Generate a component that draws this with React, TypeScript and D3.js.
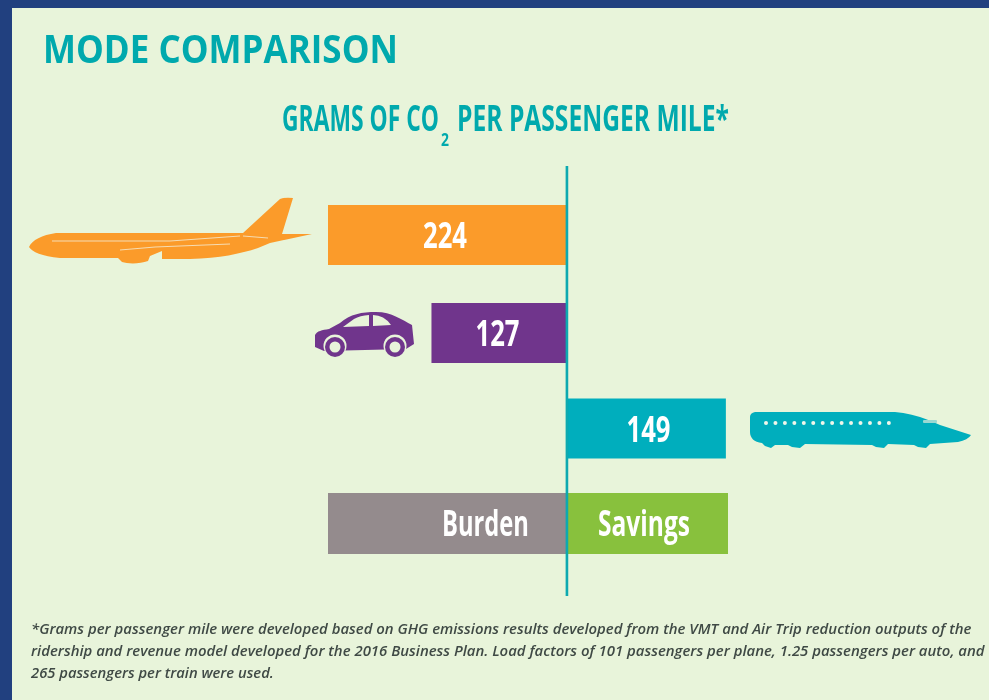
import React, { useLayoutEffect, useRef } from "react";
import * as d3 from "d3";

const categories = ["Plane", "Auto", "Train"];
const directions = [-1, -1, 1];
const values = [224, 127, 149];
const barColors = ["#fb9b2a", "#70368c", "#00aebd"];
const legendLabels = ["Burden", "Savings"];
const legendValues = [-224, 151];
const legendColors = ["#948b8d", "#88c13c"];
const footnoteLines = [
  "*Grams per passenger mile were developed based on GHG emissions results developed from the VMT and Air Trip reduction outputs of the",
  "ridership and revenue model developed for the 2016 Business Plan. Load factors of 101 passengers per plane, 1.25 passengers per auto, and",
  "265 passengers per train were used.",
];
const footnoteWidths = [941, 954, 243];

const W = 989, H = 700;
const TEAL = "#06a9ad";
const COND = "'Open Sans',sans-serif";
const PALE = "#e8f4da";

// Squeezes a text to a width by a real horizontal scale, so its box matches what is drawn.
function FitText({ x, y, width, children, ...rest }: any) {
  const ref = useRef<SVGTextElement>(null);
  useLayoutEffect(() => {
    const el = ref.current;
    if (!el) return;
    const natural = el.getComputedTextLength();
    el.setAttribute("transform", `translate(${x},${y}) scale(${width / natural},1)`);
  }, [x, y, width]);
  return <text ref={ref} {...rest}>{children}</text>;
}

export default function App() {
  const x = d3.scaleLinear().domain([-224, 151]).range([328, 728]);
  const rows = [...categories, "Legend"];
  const y = d3.scaleOrdinal<string, number>().domain(rows).range([235, 333, 428.5, 523.5]);
  const barH = 60;
  const dots = d3.range(14).map((i) => 766 + i * 9.45);
  return (
    <svg width={W} height={H} style={{ position: "absolute", left: 0, top: 0, display: "block" }}>
      <defs>
        <filter id="soft" x="-5%" y="-5%" width="110%" height="110%">
          <feGaussianBlur stdDeviation="0.6" />
        </filter>
      </defs>
      <rect width={W} height={H} fill="#21407f" />
      <rect x={12} y={8} width={W - 12} height={H - 8} fill={PALE} />
      <g filter="url(#soft)">
        <FitText x={43} y={63} width={355} fontFamily={COND} fontWeight={700} fontSize={39} fill={TEAL}>MODE COMPARISON</FitText>
        <g fontFamily={COND} fontWeight={700} fill={TEAL}>
          <FitText x={282} y={131} width={157} fontSize={36}>GRAMS OF CO</FitText>
          <FitText x={441} y={146} width={8} fontSize={17}>2</FitText>
          <FitText x={457} y={131} width={272} fontSize={36}>PER PASSENGER MILE*</FitText>
        </g>

        {categories.map((c, i) => {
          const v = directions[i] * values[i];
          const x0 = Math.min(x(0), x(v));
          const x1 = Math.max(x(0), x(v));
          const cx = i === 0 ? 445 : i === 1 ? 497.5 : 648.5;
          return (
            <g key={c}>
              <rect x={x0} y={y(c) - barH / 2} width={x1 - x0} height={barH} fill={barColors[i]} />
              <FitText x={cx - 22} y={y(c) + 13} width={44} fontFamily={COND} fontWeight={700}
                fontSize={35} fill="#fff">{values[i]}</FitText>
            </g>
          );
        })}

        {legendLabels.map((l, i) => {
          const x0 = Math.min(x(0), x(legendValues[i]));
          const x1 = Math.max(x(0), x(legendValues[i]));
          const tx = i === 0 ? 442 : 598;
          const tw = i === 0 ? 87 : 92;
          return (
            <g key={l}>
              <rect x={x0} y={y("Legend") - barH / 2 - 0.5} width={x1 - x0} height={61} fill={legendColors[i]} />
              <FitText x={tx} y={y("Legend") + 12.5} width={tw} fontFamily={COND} fontWeight={700}
                fontSize={35} fill="#fff">{l}</FitText>
            </g>
          );
        })}

        <line x1={x(0)} x2={x(0)} y1={166} y2={596} stroke="#0aa9b0" strokeWidth={2.6} />

        {/* plane */}
        <path fill={barColors[0]} d="M29 247 C32 240 42 235 56 233 L243 233 L280 199 Q285 197 293 198 L282 234 L312 234 L270 243 L258 248 C240 254 220 258 190 259 L162 259 L162 251 L150 256 L148 261 C140 264 128 264 122 262 L118 258 L60 258 C42 256 32 252 29 247 Z" />
        <path fill="none" stroke="#f6dcb2" strokeWidth={1} d="M52 241 L170 241 L240 236 M120 250 L155 247 L230 244 M268 238 L243 236" />
        {/* car */}
        <path fill={barColors[1]} d="M315 335 C317 331 322 330 329 329 L340 323 C350 314 362 312 376 312 C392 312 402 320 412 325 L414 344 L406 349 L324 351 L315 347 Z" />
        <path fill={PALE} d="M343 327 L354 319 Q360 315.5 369 315 L369 326 Z M373 315 Q384 315 391 325 L373 326 Z" />
        {[335, 395].map((cx) => (
          <g key={cx}>
            <circle cx={cx} cy={346} r={11.5} fill={PALE} />
            <circle cx={cx} cy={347} r={10} fill={barColors[1]} />
            <circle cx={cx} cy={347} r={5.5} fill={PALE} />
          </g>
        ))}
        {/* train */}
        <path fill={barColors[2]} d="M755 412 L895 412 C910 413 925 418 940 425 L971 435 Q968 440 958 442 L930 444 L926 448 L918 447 L914 445 L888 444 L884 448 L876 447 L872 445 L805 444 L800 448 L792 447 L788 445 L775 445 L771 448 L765 446 L762 443 C754 442 750 438 750 432 L750 417 Q750 413 755 412 Z" />
        {dots.map((cx) => <circle key={cx} cx={cx} cy={423} r={2} fill="#f0f6ea" />)}
        <rect x={923} y={420} width={14} height={3} rx={1} fill="#9bd8d2" />
      </g>

      <g filter="url(#soft)" fontFamily="'Open Sans',sans-serif" fontStyle="italic" fontSize={15} fontWeight={600} fill="#3f4a45">
        {footnoteLines.map((t, i) => (
          <FitText key={i} x={31} y={634 + i * 22} width={footnoteWidths[i]}>{t}</FitText>
        ))}
      </g>
    </svg>
  );
}
